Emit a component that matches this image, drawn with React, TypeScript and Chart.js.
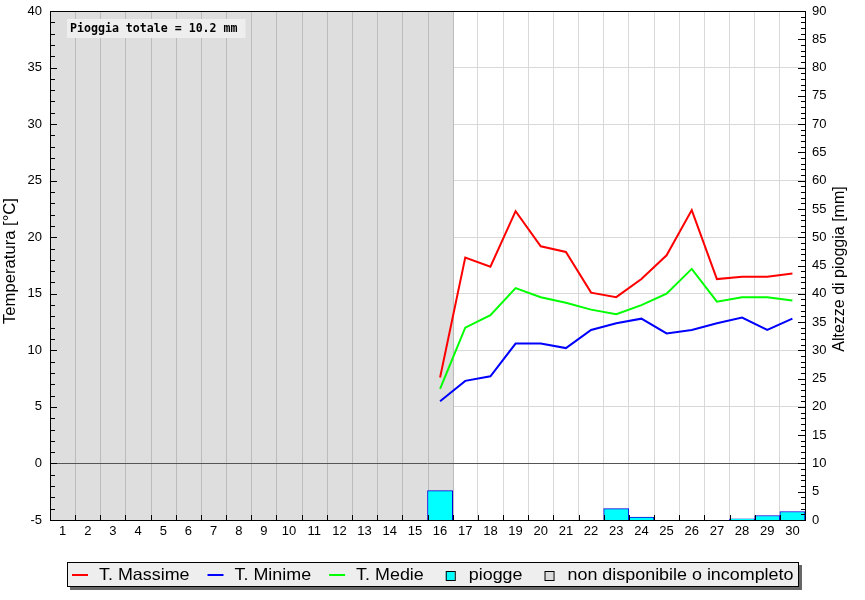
import React, { useEffect, useRef } from 'react';
import { Chart, registerables } from 'chart.js';

Chart.register(...registerables);

const days = ['1','2','3','4','5','6','7','8','9','10','11','12','13','14','15','16','17','18','19','20','21','22','23','24','25','26','27','28','29','30'];
const incompleteDays = [1,2,3,4,5,6,7,8,9,10,11,12,13,14,15,16];

const tMax = [null,null,null,null,null,null,null,null,null,null,null,null,null,null,null,7.6,18.2,17.4,22.3,19.2,18.7,15.1,14.7,16.3,18.4,22.4,16.3,16.5,16.5,16.8];
const tMin = [null,null,null,null,null,null,null,null,null,null,null,null,null,null,null,5.5,7.3,7.7,10.6,10.6,10.2,11.8,12.4,12.8,11.5,11.8,12.4,12.9,11.8,12.8];
const tMed = [null,null,null,null,null,null,null,null,null,null,null,null,null,null,null,6.6,12.0,13.1,15.5,14.7,14.2,13.6,13.2,14.0,15.0,17.2,14.3,14.7,14.7,14.4];
const rain = [null,null,null,null,null,null,null,null,null,null,null,null,null,null,null,5.2,null,null,null,null,null,null,2.0,0.5,null,null,null,0.2,0.8,1.5];

const tempTitle = 'Temperatura [°C]';
const rainTitle = 'Altezze di pioggia [mm]';
const legendItems = [
  { label: 'T. Massime', kind: 'line', color: '#ff0000' },
  { label: 'T. Minime', kind: 'line', color: '#0000ff' },
  { label: 'T. Medie', kind: 'line', color: '#00ff00' },
  { label: 'piogge', kind: 'box', color: '#00ffff' },
  { label: 'non disponibile o incompleto', kind: 'box', color: '#dcdcdc' },
];

const FONT = '"Liberation Sans", Arial, sans-serif';

function stretched(ctx: CanvasRenderingContext2D, text: string, x: number, y: number, sx: number) {
  ctx.save();
  ctx.translate(x, y);
  ctx.scale(sx, 1);
  ctx.fillText(text, 0, 0);
  ctx.restore();
}

function seg(ctx: CanvasRenderingContext2D, x1: number, y1: number, x2: number, y2: number) {
  ctx.beginPath();
  ctx.moveTo(x1, y1);
  ctx.lineTo(x2, y2);
  ctx.stroke();
}

const decor = {
  id: 'decor',
  beforeDatasetsDraw(chart: any) {
    const { ctx, chartArea: a, scales } = chart;
    const x = scales.x, y = scales.y;
    const half = (x.getPixelForValue(1) - x.getPixelForValue(0)) / 2;
    const lastIdx = days.indexOf(String(incompleteDays[incompleteDays.length - 1]));
    const greyRight = x.getPixelForValue(lastIdx) + half;
    ctx.save();
    ctx.fillStyle = '#dedede';
    ctx.fillRect(a.left, a.top, greyRight - a.left, a.bottom - a.top);
    ctx.strokeStyle = '#bcbcbc';
    ctx.lineWidth = 1;
    for (let i = 0; i <= lastIdx; i++) {
      const px = Math.round(x.getPixelForValue(i) + half) + 0.5;
      seg(ctx, px, a.top, px, a.bottom);
    }
    const y0 = Math.round(y.getPixelForValue(0)) + 0.5;
    ctx.strokeStyle = '#555555';
    seg(ctx, a.left, y0, a.right, y0);
    ctx.restore();
  },
  afterDatasetsDraw(chart: any) {
    const { ctx, chartArea: a, scales } = chart;
    const x = scales.x, y = scales.y, y2 = scales.y2;
    ctx.save();
    ctx.strokeStyle = '#000';
    ctx.lineWidth = 1;
    for (let v = -5; v <= 40; v++) {
      const py = Math.round(y.getPixelForValue(v)) + 0.5;
      const len = v % 5 === 0 ? 7 : 5;
      seg(ctx, a.left, py, a.left + len, py);
    }
    for (let v = 0; v <= 90; v++) {
      const py = Math.round(y2.getPixelForValue(v)) + 0.5;
      const len = v % 5 === 0 ? 7 : 4;
      seg(ctx, a.right, py, a.right - len, py);
    }
    const half = (x.getPixelForValue(1) - x.getPixelForValue(0)) / 2;
    for (let i = 0; i < days.length - 1; i++) {
      const px = Math.round(x.getPixelForValue(i) + half) + 0.5;
      seg(ctx, px, a.bottom, px, a.bottom - 5);
    }
    ctx.strokeRect(Math.round(a.left) + 0.5, Math.round(a.top) + 0.5, Math.round(a.right - a.left), Math.round(a.bottom - a.top));
    const total = rain.reduce((s: number, v) => s + (v || 0), 0);
    const txt = `Pioggia totale = ${total.toFixed(1)} mm`;
    ctx.font = 'bold 11.6px "DejaVu Sans Mono", monospace';
    const tw = ctx.measureText(txt).width;
    const bx = a.left + 17, by = a.top + 8;
    ctx.fillStyle = '#eeeeee';
    ctx.fillRect(bx, by, tw + 11, 19);
    ctx.fillStyle = '#000';
    ctx.textBaseline = 'middle';
    ctx.textAlign = 'left';
    ctx.fillText(txt, bx + 3, by + 10);
    ctx.restore();
  },
  afterDraw(chart: any) {
    const { ctx } = chart;
    ctx.save();
    ctx.fillStyle = '#000';
    ctx.font = `16px ${FONT}`;
    ctx.textAlign = 'center';
    ctx.textBaseline = 'middle';
    ctx.save();
    ctx.translate(11, 261);
    ctx.rotate(-Math.PI / 2);
    stretched(ctx, tempTitle, 0, 0, 1.04);
    ctx.restore();
    ctx.save();
    ctx.translate(840, 269);
    ctx.rotate(-Math.PI / 2);
    stretched(ctx, rainTitle, 0, 0, 1.0);
    ctx.restore();

    const lx = 67, ly = 562, lw = 732, lh = 25;
    ctx.fillStyle = '#666666';
    ctx.fillRect(lx + 3, ly + 3, lw, lh);
    ctx.fillStyle = '#eeeeee';
    ctx.fillRect(lx, ly, lw, lh);
    ctx.strokeStyle = '#000';
    ctx.lineWidth = 1;
    ctx.strokeRect(lx + 0.5, ly + 0.5, lw - 1, lh - 1);
    ctx.font = `16.5px ${FONT}`;
    ctx.textAlign = 'left';
    ctx.textBaseline = 'middle';
    const sx = 1.085;
    let cx = lx + 5;
    const cy = ly + 13;
    for (const it of legendItems) {
      if (it.kind === 'line') {
        ctx.strokeStyle = it.color;
        ctx.lineWidth = 2;
        seg(ctx, cx, cy, cx + 16, cy);
      } else {
        ctx.fillStyle = it.color;
        ctx.fillRect(cx + 4, cy - 4, 9, 9);
        ctx.strokeStyle = '#000';
        ctx.lineWidth = 1;
        ctx.strokeRect(cx + 4.5, cy - 3.5, 9, 9);
      }
      cx += 27;
      ctx.fillStyle = '#000';
      stretched(ctx, it.label, cx, cy, sx);
      cx += ctx.measureText(it.label).width * sx + 18;
    }
    ctx.restore();
  },
};

const App = () => {
  const ref = useRef<HTMLCanvasElement>(null);
  useEffect(() => {
    const canvas = ref.current as HTMLCanvasElement;
    const tickFont = { family: FONT, size: 13 };
    const chart = new Chart(canvas, {
      type: 'bar',
      data: {
        labels: days,
        datasets: [
          { type: 'line', label: 'T. Massime', data: tMax, borderColor: '#ff0000', backgroundColor: '#ff0000', borderWidth: 2, pointRadius: 0, tension: 0, yAxisID: 'y', order: 1 } as any,
          { type: 'line', label: 'T. Minime', data: tMin, borderColor: '#0000ff', backgroundColor: '#0000ff', borderWidth: 2, pointRadius: 0, tension: 0, yAxisID: 'y', order: 1 } as any,
          { type: 'line', label: 'T. Medie', data: tMed, borderColor: '#00ff00', backgroundColor: '#00ff00', borderWidth: 2, pointRadius: 0, tension: 0, yAxisID: 'y', order: 1 } as any,
          { type: 'bar', label: 'piogge', data: rain, backgroundColor: '#00ffff', borderColor: '#0000dd', borderWidth: 1, barPercentage: 1, categoryPercentage: 1, yAxisID: 'y2', order: 2 } as any,
        ],
      },
      options: {
        animation: false,
        responsive: false,
        devicePixelRatio: 1,
        layout: { padding: { top: 11, left: 0, right: 0, bottom: 0 } },
        plugins: { legend: { display: false }, tooltip: { enabled: false } },
        scales: {
          x: {
            offset: true,
            grid: { offset: true, color: '#d9d9d9', drawTicks: false },
            border: { display: false },
            ticks: { font: tickFont, color: '#000', padding: 4, maxRotation: 0, minRotation: 0, autoSkip: false },
            afterFit: (s: any) => { s.height = 80; s.paddingLeft = 0; s.paddingRight = 0; },
          },
          y: {
            position: 'left',
            min: -5,
            max: 40,
            grid: { color: '#d9d9d9', drawTicks: false },
            border: { display: false },
            ticks: { stepSize: 5, font: tickFont, color: '#000', padding: 8 },
            afterFit: (s: any) => { s.width = 50; s.paddingTop = 0; s.paddingBottom = 0; },
          },
          y2: {
            position: 'right',
            min: 0,
            max: 90,
            grid: { display: false, drawTicks: false },
            border: { display: false },
            ticks: { stepSize: 5, font: tickFont, color: '#000', padding: 7 },
            afterFit: (s: any) => { s.width = 60; s.paddingTop = 0; s.paddingBottom = 0; },
          },
        },
      } as any,
      plugins: [decor],
    });
    return () => chart.destroy();
  }, []);
  return (
    <div style={{ position: 'absolute', left: 0, top: 0, width: 865, height: 600, background: '#fff' }}>
      <canvas ref={ref} width={865} height={600} style={{ display: 'block', width: 865, height: 600 }} />
    </div>
  );
};

export default App;
